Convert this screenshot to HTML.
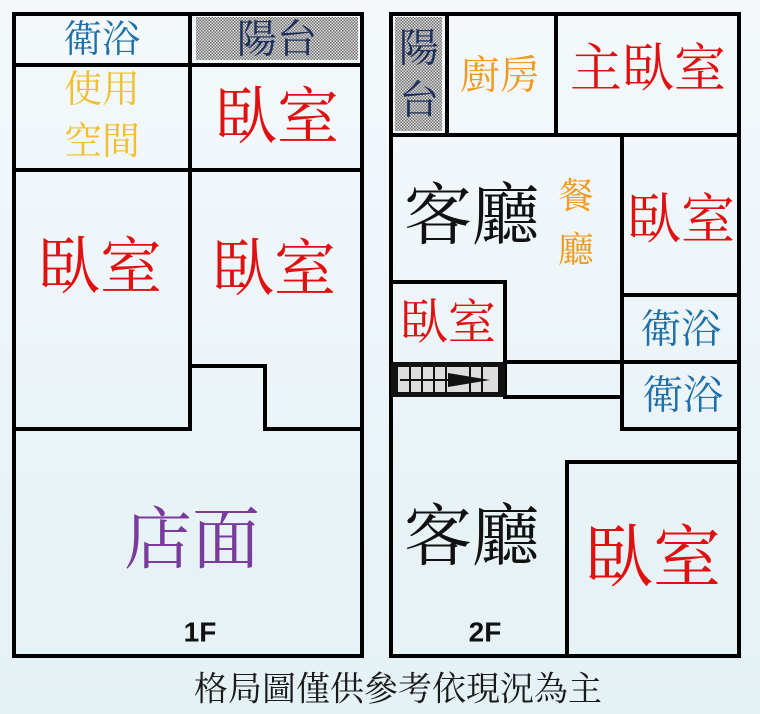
<!DOCTYPE html>
<html><head><meta charset="utf-8"><style>
html,body{margin:0;padding:0}
body{width:760px;height:714px;background:linear-gradient(180deg,#f4f8fb,#e4f1f5);overflow:hidden}
svg{display:block}
text{font-family:"Liberation Serif","Noto Serif CJK TC","Noto Serif CJK SC",serif;text-anchor:middle;dominant-baseline:central}
text.f{font-family:"Liberation Sans",sans-serif;font-weight:bold}
</style></head><body>
<svg width="760" height="714" viewBox="0 0 760 714" xmlns="http://www.w3.org/2000/svg">
<defs>
<pattern id="h" width="3" height="3" patternUnits="userSpaceOnUse">
<rect width="3" height="3" fill="#d8d8d8"/><rect width="1.5" height="1.5" fill="#777"/><rect x="1.5" y="1.5" width="1.5" height="1.5" fill="#777"/>
</pattern>
</defs>
<rect x="196" y="17" width="162" height="43" fill="url(#h)"/>
<rect x="395" y="17" width="47" height="114" fill="url(#h)"/>
<g stroke="#000" stroke-width="4" fill="none" stroke-linecap="square">
<rect x="14" y="14" width="348" height="642"/>
<line x1="14" y1="65" x2="362" y2="65"/>
<line x1="190" y1="14" x2="190" y2="170"/>
<line x1="14" y1="170" x2="362" y2="170"/>
<line x1="190" y1="170" x2="190" y2="429"/>
<line x1="190" y1="366" x2="265" y2="366"/>
<line x1="265" y1="366" x2="265" y2="429"/>
<line x1="14" y1="429" x2="190" y2="429"/>
<line x1="265" y1="429" x2="362" y2="429"/>

<rect x="391" y="14" width="348" height="642"/>
<line x1="447" y1="14" x2="447" y2="135"/>
<line x1="556" y1="14" x2="556" y2="135"/>
<line x1="391" y1="135" x2="739" y2="135"/>
<line x1="622" y1="135" x2="622" y2="429"/>
<line x1="622" y1="295" x2="739" y2="295"/>
<line x1="505" y1="362" x2="739" y2="362"/>
<line x1="622" y1="429" x2="739" y2="429"/>
<line x1="391" y1="282" x2="505" y2="282"/>
<line x1="505" y1="282" x2="505" y2="397"/>
<line x1="505" y1="397" x2="622" y2="397"/>
<rect x="567" y="462" width="172" height="194"/>
</g>
<rect x="391" y="362" width="114" height="35" fill="#111"/>
<rect x="398" y="367" width="100" height="25" fill="#ddd"/>
<g stroke="#111" stroke-width="2">
<line x1="410" y1="367" x2="410" y2="392"/><line x1="422" y1="367" x2="422" y2="392"/>
<line x1="434" y1="367" x2="434" y2="392"/><line x1="446" y1="367" x2="446" y2="392"/>
<line x1="470" y1="367" x2="470" y2="392"/><line x1="482" y1="367" x2="482" y2="392"/>
<line x1="400" y1="380" x2="470" y2="380"/>
</g>
<polygon points="448,373 490,380 448,387" fill="#111"/>

<text x="102" y="40" font-size="38" fill="#1f6fa8">衛浴</text>
<text x="277" y="39" font-size="40" fill="#1c2f5a">陽台</text>
<text x="102" y="90" font-size="38" fill="#f0c030">使用</text>
<text x="102" y="142" font-size="38" fill="#f0c030">空間</text>
<text x="277" y="118" font-size="62" fill="#e01010">臥室</text>
<text x="100" y="268" font-size="62" fill="#e01010">臥室</text>
<text x="274" y="270" font-size="62" fill="#e01010">臥室</text>
<text x="192" y="540" font-size="68" fill="#7a3c9c">店面</text>
<text class="f" x="200" y="632" font-size="28" fill="#111">1F</text>

<text x="419" y="48" font-size="40" fill="#1c2f5a">陽</text>
<text x="419" y="100" font-size="40" fill="#1c2f5a">台</text>
<text x="500" y="75" font-size="40" fill="#f09a20">廚房</text>
<text x="648" y="70" font-size="52" fill="#e01010">主臥室</text>
<text x="472" y="216" font-size="68" fill="#111">客廳</text>
<text x="576" y="196" font-size="36" fill="#f09a20">餐</text>
<text x="576" y="250" font-size="36" fill="#f09a20">廳</text>
<text x="681" y="220" font-size="54" fill="#e01010">臥室</text>
<text x="448" y="323" font-size="48" fill="#e01010">臥室</text>
<text x="681" y="329" font-size="40" fill="#1f6fa8">衛浴</text>
<text x="683" y="395" font-size="40" fill="#1f6fa8">衛浴</text>
<text x="472" y="537" font-size="68" fill="#111">客廳</text>
<text x="653" y="558" font-size="68" fill="#e01010">臥室</text>
<text class="f" x="485" y="632" font-size="28" fill="#111">2F</text>
<text x="398" y="690" font-size="34" fill="#1a1a1a">格局圖僅供參考依現況為主</text>
</svg>
</body></html>
